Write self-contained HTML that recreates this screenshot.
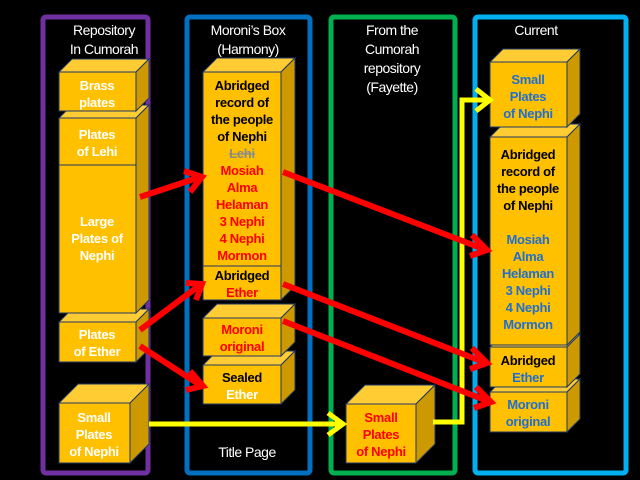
<!DOCTYPE html>
<html><head><meta charset="utf-8"><style>
html,body{margin:0;padding:0;background:#000;}
svg{display:block;}
.t{font-family:"Liberation Sans",Arial,sans-serif;font-size:14px;fill:#fff;text-anchor:middle;letter-spacing:-0.5px}
.b{font-family:"Liberation Sans",Arial,sans-serif;font-size:13px;font-weight:bold;text-anchor:middle;letter-spacing:-0.3px}
.w{fill:#fff}.k{fill:#000}.r{fill:#ff0000}.u{fill:#1f6fd0}
.f{fill:#ffc000;stroke:#1f3864;stroke-width:1}
.tp{fill:#ffcc33;stroke:#1f3864;stroke-width:1}
.sd{fill:#cc9900;stroke:#1f3864;stroke-width:1}
</style></head><body>
<svg width="640" height="480" viewBox="0 0 640 480" xmlns="http://www.w3.org/2000/svg">
<rect width="640" height="480" fill="#000"/>
<rect x="43" y="17" width="105" height="456" rx="3" fill="none" stroke="#7030a0" stroke-width="5"/>
<rect x="187" y="17" width="123" height="456" rx="3" fill="none" stroke="#0070c0" stroke-width="5"/>
<rect x="331" y="17" width="124" height="456" rx="3" fill="none" stroke="#00b050" stroke-width="5"/>
<rect x="475" y="17" width="151" height="456" rx="3" fill="none" stroke="#00b0f0" stroke-width="5"/>

<text class="t" x="104" y="35">Repository</text><text class="t" x="104" y="54">In Cumorah</text>
<text class="t" x="248" y="35">Moroni’s Box</text><text class="t" x="248" y="54">(Harmony)</text>
<text class="t" x="392" y="35">From the</text><text class="t" x="392" y="54">Cumorah</text><text class="t" x="392" y="73">repository</text><text class="t" x="392" y="92">(Fayette)</text>
<text class="t" x="536" y="35">Current</text>
<text class="t" x="247" y="457">Title Page</text>

<!-- col1 (bottom first) -->
<polygon class="tp" points="59,403 78,384 149,384 130,403"/><polygon class="sd" points="130,403 149,384 149,444 130,463"/><rect class="f" x="59" y="403" width="71" height="60"/>
<polygon class="tp" points="59,322 72,309 149,309 136,322"/><polygon class="sd" points="136,322 149,309 149,349 136,362"/><rect class="f" x="59" y="322" width="77" height="40"/>
<polygon class="tp" points="59,118 72,105 149,105 136,118"/><polygon class="sd" points="136,118 149,105 149,300 136,313"/>
<rect class="f" x="59" y="118" width="77" height="47"/><rect class="f" x="59" y="165" width="77" height="148"/>
<polygon class="tp" points="59,72 72,59 149,59 136,72"/><polygon class="sd" points="136,72 149,59 149,98 136,111"/><rect class="f" x="59" y="72" width="77" height="39"/>
<text class="b w" x="97" y="90">Brass</text><text class="b w" x="97" y="107">plates</text>
<text class="b w" x="97" y="139">Plates</text><text class="b w" x="97" y="156">of Lehi</text>
<text class="b w" x="97" y="226">Large</text><text class="b w" x="97" y="243">Plates of</text><text class="b w" x="97" y="260">Nephi</text>
<text class="b w" x="97" y="339">Plates</text><text class="b w" x="97" y="356">of Ether</text>
<text class="b w" x="94" y="422">Small</text><text class="b w" x="94" y="439">Plates</text><text class="b w" x="94" y="456">of Nephi</text>

<!-- col2 (bottom first) -->
<polygon class="tp" points="203,365 217,351 295,351 281,365"/><polygon class="sd" points="281,365 295,351 295,390 281,404"/><rect class="f" x="203" y="365" width="78" height="39"/>
<polygon class="tp" points="203,318 217,304 295,304 281,318"/><polygon class="sd" points="281,318 295,304 295,342 281,356"/><rect class="f" x="203" y="318" width="78" height="38"/>
<polygon class="tp" points="203,72 217,58 295,58 281,72"/><polygon class="sd" points="281,72 295,58 295,286 281,300"/>
<rect class="f" x="203" y="72" width="78" height="194"/><rect class="f" x="203" y="266" width="78" height="34"/>
<text class="b k" x="242" y="90">Abridged</text><text class="b k" x="242" y="107">record of</text><text class="b k" x="242" y="124">the people</text><text class="b k" x="242" y="141">of Nephi</text>
<text class="b" x="242" y="158" fill="#8a8a8a">Lehi</text>
<line x1="229" y1="154" x2="255" y2="154" stroke="#8a8a8a" stroke-width="1.3"/>
<text class="b r" x="242" y="175">Mosiah</text><text class="b r" x="242" y="192">Alma</text><text class="b r" x="242" y="209">Helaman</text><text class="b r" x="242" y="226">3 Nephi</text><text class="b r" x="242" y="243">4 Nephi</text><text class="b r" x="242" y="260">Mormon</text>
<text class="b k" x="242" y="280">Abridged</text><text class="b r" x="242" y="297">Ether</text>
<text class="b r" x="242" y="334">Moroni</text><text class="b r" x="242" y="351">original</text>
<text class="b k" x="242" y="382">Sealed</text><text class="b w" x="242" y="399">Ether</text>

<!-- col3 -->
<polygon class="tp" points="346,404 365,385 435,385 416,404"/><polygon class="sd" points="416,404 435,385 435,444 416,463"/><rect class="f" x="346" y="404" width="70" height="59"/>
<text class="b r" x="381" y="422">Small</text><text class="b r" x="381" y="439">Plates</text><text class="b r" x="381" y="456">of Nephi</text>

<!-- col4 (bottom first) -->
<polygon class="tp" points="490,392 503,379 580,379 567,392"/><polygon class="sd" points="567,392 580,379 580,419 567,432"/><rect class="f" x="490" y="392" width="77" height="40"/>
<polygon class="tp" points="490,347 503,334 580,334 567,347"/><polygon class="sd" points="567,347 580,334 580,374 567,387"/><rect class="f" x="490" y="347" width="77" height="40"/>
<polygon class="tp" points="490,137 503,124 580,124 567,137"/><polygon class="sd" points="567,137 580,124 580,332 567,345"/><rect class="f" x="490" y="137" width="77" height="208"/>
<polygon class="tp" points="490,62 503,49 580,49 567,62"/><polygon class="sd" points="567,62 580,49 580,114 567,127"/><rect class="f" x="490" y="62" width="77" height="65"/>
<text class="b u" x="528" y="84">Small</text><text class="b u" x="528" y="101">Plates</text><text class="b u" x="528" y="118">of Nephi</text>
<text class="b k" x="528" y="159">Abridged</text><text class="b k" x="528" y="176">record of</text><text class="b k" x="528" y="193">the people</text><text class="b k" x="528" y="210">of Nephi</text>
<text class="b u" x="528" y="244">Mosiah</text><text class="b u" x="528" y="261">Alma</text><text class="b u" x="528" y="278">Helaman</text><text class="b u" x="528" y="295">3 Nephi</text><text class="b u" x="528" y="312">4 Nephi</text><text class="b u" x="528" y="329">Mormon</text>
<text class="b k" x="528" y="365">Abridged</text><text class="b u" x="528" y="382">Ether</text>
<text class="b u" x="528" y="409">Moroni</text><text class="b u" x="528" y="426">original</text>

<!-- yellow arrows -->
<g stroke="#ffff00" stroke-width="5" fill="none" stroke-linejoin="miter">
<line x1="149" y1="424" x2="340" y2="424"/>
<polyline points="328,413 343,424 328,435"/>
<polyline points="433,422 462,422 462,100 488,100"/>
<polyline points="476,89 490,100 476,111"/>
</g>
<!-- red arrows -->
<g stroke="#ff0000" stroke-width="6" fill="none" stroke-linecap="butt">
<line x1="140" y1="197" x2="200" y2="177"/><polyline points="184,171 202,177 190,192"/>
<line x1="140" y1="330" x2="200" y2="285"/><polyline points="186,283 202,284 196,300"/>
<line x1="140" y1="346" x2="200" y2="385"/><polyline points="190,371 203,386 186,390"/>
<line x1="283" y1="172" x2="486" y2="250"/><polyline points="472,235 487,250 470,256"/>
<line x1="283" y1="284" x2="486" y2="363"/><polyline points="472,348 487,363 470,369"/>
<line x1="283" y1="321" x2="490" y2="402"/><polyline points="476,387 491,402 474,408"/>
</g>
</svg>
</body></html>
